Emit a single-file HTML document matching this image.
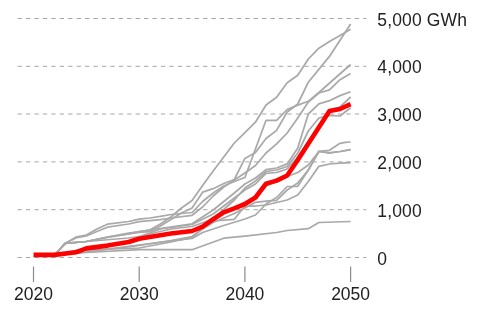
<!DOCTYPE html>
<html><head><meta charset="utf-8"><style>
html,body{margin:0;padding:0;background:#fff;}
body{width:480px;height:316px;position:relative;overflow:hidden;font-family:"Liberation Sans",sans-serif;color:#222;}
</style></head><body>
<svg width="480" height="316" viewBox="0 0 480 316" style="position:absolute;left:0;top:0;font-family:'Liberation Sans',sans-serif"><line x1="17.6" y1="257.5" x2="366.3" y2="257.5" stroke="#a6a6a6" stroke-width="1" stroke-dasharray="4.3 4.13"/><line x1="17.6" y1="209.7" x2="366.3" y2="209.7" stroke="#a6a6a6" stroke-width="1" stroke-dasharray="4.3 4.13"/><line x1="17.6" y1="161.9" x2="366.3" y2="161.9" stroke="#a6a6a6" stroke-width="1" stroke-dasharray="4.3 4.13"/><line x1="17.6" y1="114.0" x2="366.3" y2="114.0" stroke="#a6a6a6" stroke-width="1" stroke-dasharray="4.3 4.13"/><line x1="17.6" y1="66.3" x2="366.3" y2="66.3" stroke="#a6a6a6" stroke-width="1" stroke-dasharray="4.3 4.13"/><line x1="17.6" y1="18.5" x2="366.3" y2="18.5" stroke="#a6a6a6" stroke-width="1" stroke-dasharray="4.3 4.13"/><line x1="33.50" y1="266.5" x2="33.50" y2="282" stroke="#8c8c8c" stroke-width="1.2"/><line x1="139.20" y1="266.5" x2="139.20" y2="282" stroke="#8c8c8c" stroke-width="1.2"/><line x1="244.90" y1="266.5" x2="244.90" y2="282" stroke="#8c8c8c" stroke-width="1.2"/><line x1="350.60" y1="266.5" x2="350.60" y2="282" stroke="#8c8c8c" stroke-width="1.2"/><polyline points="54.64,255.00 65.21,243.40 86.35,241.50 107.49,237.00 128.63,234.00 139.20,232.50 149.77,231.70 160.34,226.00 170.91,219.50 181.48,213.00 192.05,208.00 202.62,192.20 213.19,188.70 223.76,183.50 234.33,179.50 244.90,158.40 255.47,152.50 266.04,138.50 276.61,130.40 287.18,112.00 297.75,104.00 308.32,82.20 329.46,56.40 350.60,23.90" fill="none" stroke="#a9a9a9" stroke-width="1.75" stroke-linejoin="round"/><polyline points="54.64,255.00 65.21,243.40 86.35,241.50 107.49,237.00 128.63,233.00 139.20,231.50 149.77,230.00 160.34,224.00 170.91,217.00 181.48,208.00 192.05,200.50 202.62,185.50 213.19,171.00 223.76,157.00 234.33,143.00 244.90,132.60 255.47,122.20 266.04,105.00 276.61,97.30 287.18,82.80 297.75,75.20 308.32,59.00 318.89,48.20 329.46,41.50 340.03,35.50 350.60,29.20" fill="none" stroke="#a9a9a9" stroke-width="1.75" stroke-linejoin="round"/><polyline points="54.64,255.00 65.21,243.40 75.78,237.20 86.35,235.10 96.92,229.00 107.49,224.20 128.63,221.50 139.20,219.10 149.77,218.00 160.34,216.40 170.91,214.50 192.05,212.50 202.62,201.50 213.19,193.00 223.76,186.00 234.33,181.50 244.90,177.50 255.47,149.00 266.04,120.30 276.61,120.30 287.18,109.50 297.75,105.10 308.32,101.30 318.89,92.50 350.60,64.50" fill="none" stroke="#a9a9a9" stroke-width="1.75" stroke-linejoin="round"/><polyline points="54.64,255.00 65.21,243.40 75.78,238.00 86.35,236.00 96.92,231.50 107.49,227.20 128.63,224.00 139.20,221.70 160.34,219.60 170.91,218.00 192.05,215.30 202.62,207.00 213.19,196.00 223.76,187.00 234.33,180.00 244.90,173.00 255.47,165.50 266.04,153.00 276.61,143.90 287.18,133.00 297.75,118.00 308.32,102.00 318.89,93.00 329.46,89.80 340.03,79.70 350.60,73.40" fill="none" stroke="#a9a9a9" stroke-width="1.75" stroke-linejoin="round"/><polyline points="54.64,255.00 65.21,243.40 86.35,241.50 107.49,237.50 128.63,234.00 139.20,231.50 160.34,228.50 192.05,223.80 213.19,210.00 234.33,193.00 244.90,184.00 255.47,178.00 266.04,169.60 276.61,168.00 287.18,163.90 297.75,148.00 308.32,114.00 318.89,103.90 329.46,100.70 340.03,95.60 350.60,91.70" fill="none" stroke="#a9a9a9" stroke-width="1.75" stroke-linejoin="round"/><polyline points="54.64,255.00 65.21,243.40 86.35,241.50 128.63,238.00 139.20,236.50 149.77,233.00 160.34,229.00 192.05,224.50 213.19,214.00 234.33,198.00 244.90,190.00 255.47,184.00 266.04,173.40 276.61,172.50 287.18,169.00 297.75,157.00 329.46,110.00 340.03,107.00 350.60,97.00" fill="none" stroke="#a9a9a9" stroke-width="1.75" stroke-linejoin="round"/><polyline points="54.64,255.00 86.35,248.00 128.63,241.70 139.20,238.50 149.77,234.00 170.91,229.00 192.05,226.50 213.19,219.00 234.33,200.00 244.90,188.00 255.47,181.00 266.04,171.50 276.61,170.00 287.18,166.50 297.75,153.00 308.32,131.00 318.89,118.00 329.46,115.30 340.03,116.00 350.60,107.70" fill="none" stroke="#a9a9a9" stroke-width="1.75" stroke-linejoin="round"/><polyline points="54.64,255.00 86.35,252.00 139.20,245.00 170.91,241.00 192.05,238.40 202.62,232.50 223.76,225.50 244.90,219.00 255.47,215.00 266.04,204.00 276.61,197.50 287.18,186.50 297.75,186.30 308.32,170.00 318.89,151.30 329.46,150.30 340.03,143.30 345.31,142.30 350.60,142.00" fill="none" stroke="#a9a9a9" stroke-width="1.75" stroke-linejoin="round"/><polyline points="54.64,255.00 86.35,252.00 139.20,245.30 170.91,240.50 192.05,236.50 202.62,229.00 213.19,222.50 223.76,218.00 234.33,213.50 244.90,208.00 255.47,202.30 266.04,201.20 276.61,200.30 287.18,190.00 297.75,183.00 308.32,170.00 318.89,151.50 329.46,152.80 340.03,151.50 350.60,149.60" fill="none" stroke="#a9a9a9" stroke-width="1.75" stroke-linejoin="round"/><polyline points="54.64,255.00 86.35,250.00 139.20,248.00 170.91,242.00 192.05,237.50 202.62,228.00 213.19,221.00 234.33,219.30 244.90,206.00 255.47,206.00 266.04,205.00 276.61,202.50 287.18,200.00 297.75,195.00 308.32,181.50 318.89,166.30 329.46,164.00 340.03,163.20 350.60,162.70" fill="none" stroke="#a9a9a9" stroke-width="1.75" stroke-linejoin="round"/><polyline points="54.64,254.90 75.78,252.30 86.35,248.40 107.49,245.60 128.63,242.00 139.20,238.80 170.91,233.50 192.05,231.00 202.62,226.60 213.19,219.20 223.76,212.30 234.33,208.30 244.90,204.50 255.47,198.50 266.04,186.00 276.61,182.00 287.18,176.50 297.75,172.50 308.32,165.00 318.89,151.50 329.46,152.80 340.03,151.50 350.60,149.60" fill="none" stroke="#a9a9a9" stroke-width="1.75" stroke-linejoin="round"/><polyline points="54.64,255.50 75.78,253.50 86.35,252.50 139.20,249.60 192.05,249.70 223.76,238.20 244.90,236.20 276.61,232.50 287.18,230.50 308.32,228.70 318.89,222.50 350.60,221.50" fill="none" stroke="#a9a9a9" stroke-width="1.75" stroke-linejoin="round"/><polyline points="33.50,254.90 54.64,254.90 75.78,252.30 86.35,248.40 107.49,245.60 128.63,242.00 139.20,238.80 170.91,233.50 192.05,231.00 202.62,226.60 213.19,219.20 223.76,212.30 234.33,208.30 244.90,204.00 255.47,197.50 266.04,183.60 276.61,180.60 287.18,175.50 297.75,160.00 329.46,111.00 340.03,109.00 350.60,104.20" fill="none" stroke="#f00" stroke-width="4.6" stroke-linejoin="round"/></svg><svg width="480" height="316" viewBox="0 0 480 316" style="position:absolute;left:0;top:0;font-family:&quot;Liberation Sans&quot;,sans-serif;will-change:transform"><text x="377.3" y="264.60" font-size="17.5" fill="#222" letter-spacing="0.15">0</text><text x="377.3" y="216.80" font-size="17.5" fill="#222" letter-spacing="0.15">1,000</text><text x="377.3" y="169.00" font-size="17.5" fill="#222" letter-spacing="0.15">2,000</text><text x="377.3" y="121.10" font-size="17.5" fill="#222" letter-spacing="0.15">3,000</text><text x="377.3" y="73.40" font-size="17.5" fill="#222" letter-spacing="0.15">4,000</text><text x="377.3" y="25.60" font-size="17.5" fill="#222" letter-spacing="0.15">5,000&#160;GWh</text><text x="33.50" y="300.4" font-size="17.5" fill="#222" text-anchor="middle">2020</text><text x="139.20" y="300.4" font-size="17.5" fill="#222" text-anchor="middle">2030</text><text x="244.90" y="300.4" font-size="17.5" fill="#222" text-anchor="middle">2040</text><text x="350.60" y="300.4" font-size="17.5" fill="#222" text-anchor="middle">2050</text></svg>
</body></html>
